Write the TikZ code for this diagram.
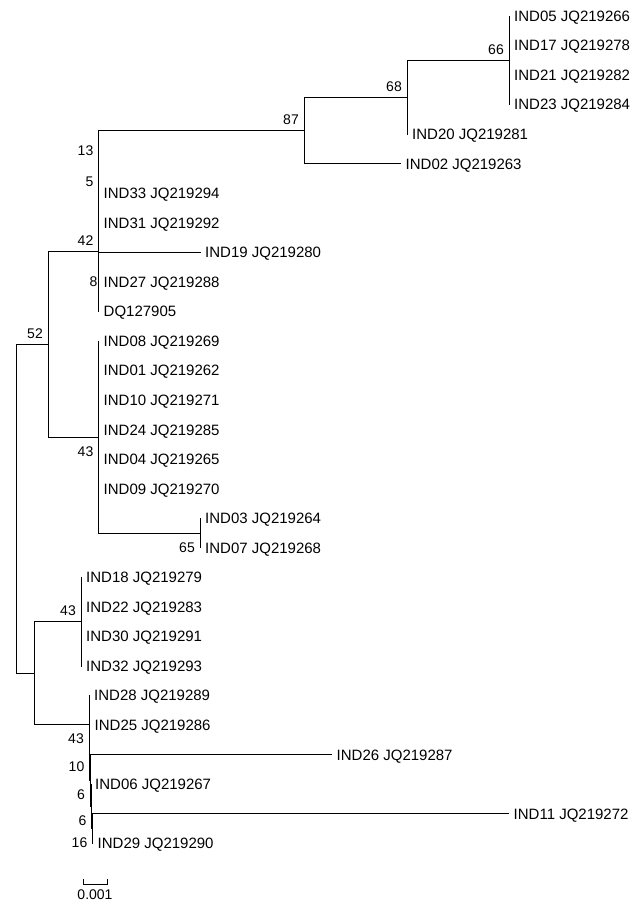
\documentclass[tikz,border=0pt]{standalone}
\usepackage{fontspec}
\setmainfont{Liberation Sans}
\newcommand{\tipfnt}{\fontsize{15}{15}\selectfont}
\newcommand{\bsfnt}{\fontsize{14}{14}\selectfont}
\tikzset{
  branch/.style={line width=1pt, line cap=rect, line join=miter, black},
  tiplab/.style={anchor=base west, inner sep=0pt, xshift=5pt, yshift=-5.3pt, font=\tipfnt},
  bsup/.style={anchor=base east, inner sep=0pt, xshift=-5pt, yshift=6pt, font=\bsfnt},
  bsdown/.style={anchor=base east, inner sep=0pt, xshift=-5pt, yshift=-19pt, font=\bsfnt}
}
\begin{document}
\begin{tikzpicture}[x=1pt,y=-1pt]
\fill[white] (0,0) rectangle (644,908);
\path[use as bounding box] (0,0) rectangle (644,908);
% tips
\coordinate (t05) at (509,16.0);
\coordinate (t17) at (509,45.55);
\coordinate (t21) at (509,75.1);
\coordinate (t23) at (509,104.65);
\coordinate (t20) at (407,134.2);
\coordinate (t02) at (400.5,163.75);
\coordinate (t33) at (98.5,193.3);
\coordinate (t31) at (98.5,222.85);
\coordinate (t19) at (200,252.4);
\coordinate (t27) at (98.5,281.95);
\coordinate (tDQ) at (98.5,311.5);
\coordinate (t08) at (98.5,341.05);
\coordinate (t01) at (98.5,370.6);
\coordinate (t10) at (98.5,400.15);
\coordinate (t24) at (98.5,429.7);
\coordinate (t04) at (98.5,459.25);
\coordinate (t09) at (98.5,488.8);
\coordinate (t03) at (200,518.35);
\coordinate (t07) at (200,547.9);
\coordinate (t18) at (81,577.45);
\coordinate (t22) at (81,607.0);
\coordinate (t30) at (81,636.55);
\coordinate (t32) at (81,666.1);
\coordinate (t28) at (89,695.65);
\coordinate (t25) at (89.5,725.2);
\coordinate (t26) at (331.5,754.75);
\coordinate (t06) at (90,784.3);
\coordinate (t11) at (508.5,813.85);
\coordinate (t29) at (92.5,843.4);
% internal nodes
\coordinate (n66) at (509,60.3);
\coordinate (n68) at (407,97.25);
\coordinate (n87) at (304,130.5);
\coordinate (n13) at (98.5,161.9);
\coordinate (n5) at (98.5,192.4);
\coordinate (n8) at (98.5,267.2);
\coordinate (n42) at (98.5,251.95);
\coordinate (n65) at (200,533.1);
\coordinate (n43u) at (98.5,437.1);
\coordinate (n52) at (48,344.5);
\coordinate (n43m) at (81,621.8);
\coordinate (n16) at (92.5,828.6);
\coordinate (n6b) at (91.5,806.5);
\coordinate (n6a) at (90,780.6);
\coordinate (n10) at (89.5,752.9);
\coordinate (n43b) at (89,724.3);
\coordinate (nbot) at (34,673.05);
\coordinate (root) at (16,508.8);
% branches
\foreach \p/\c in {root/n52, root/nbot, n52/n42, n52/n43u, n42/n5, n42/n8, n42/tDQ,
  n5/n13, n5/t31, n13/n87, n13/t33, n87/n68, n87/t02, n68/n66, n68/t20,
  n66/t05, n66/t17, n66/t21, n66/t23, n8/t19, n8/t27,
  n43u/t08, n43u/t01, n43u/t10, n43u/t24, n43u/t04, n43u/t09, n43u/n65,
  n65/t03, n65/t07, nbot/n43m, nbot/n43b, n43m/t18, n43m/t22, n43m/t30, n43m/t32,
  n43b/t28, n43b/n10, n10/t25, n10/n6a, n6a/t26, n6a/n6b, n6b/t06, n6b/n16,
  n16/t11, n16/t29}
  \draw[branch] (\p) |- (\c);
% tip labels
\node[tiplab] (l05) at (t05) {IND05 JQ219266};
\node[tiplab] (l17) at (t17) {IND17 JQ219278};
\node[tiplab] (l21) at (t21) {IND21 JQ219282};
\node[tiplab] (l23) at (t23) {IND23 JQ219284};
\node[tiplab] (l20) at (t20) {IND20 JQ219281};
\node[tiplab] (l02) at (t02) {IND02 JQ219263};
\node[tiplab] (l33) at (t33) {IND33 JQ219294};
\node[tiplab] (l31) at (t31) {IND31 JQ219292};
\node[tiplab] (l19) at (t19) {IND19 JQ219280};
\node[tiplab] (l27) at (t27) {IND27 JQ219288};
\node[tiplab] (lDQ) at (tDQ) {DQ127905};
\node[tiplab] (l08) at (t08) {IND08 JQ219269};
\node[tiplab] (l01) at (t01) {IND01 JQ219262};
\node[tiplab] (l10) at (t10) {IND10 JQ219271};
\node[tiplab] (l24) at (t24) {IND24 JQ219285};
\node[tiplab] (l04) at (t04) {IND04 JQ219265};
\node[tiplab] (l09) at (t09) {IND09 JQ219270};
\node[tiplab] (l03) at (t03) {IND03 JQ219264};
\node[tiplab] (l07) at (t07) {IND07 JQ219268};
\node[tiplab] (l18) at (t18) {IND18 JQ219279};
\node[tiplab] (l22) at (t22) {IND22 JQ219283};
\node[tiplab] (l30) at (t30) {IND30 JQ219291};
\node[tiplab] (l32) at (t32) {IND32 JQ219293};
\node[tiplab] (l28) at (t28) {IND28 JQ219289};
\node[tiplab] (l25) at (t25) {IND25 JQ219286};
\node[tiplab] (l26) at (t26) {IND26 JQ219287};
\node[tiplab] (l06) at (t06) {IND06 JQ219267};
\node[tiplab] (l11) at (t11) {IND11 JQ219272};
\node[tiplab] (l29) at (t29) {IND29 JQ219290};
% bootstrap values
\node[bsup] (b87) at (n87) {87};
\node[bsup] (b68) at (n68) {68};
\node[bsup] (b66) at (n66) {66};
\node[bsup] (b13) at (n13) {13};
\node[bsup] (b5) at (n5) {5};
\node[bsup] (b42) at (n42) {42};
\node[bsdown, xshift=4pt] (b8) at (n8) {8};
\node[bsup] (b52) at (n52) {52};
\node[bsdown] (b43u) at (n43u) {43};
\node[bsdown] (b65) at (n65) {65};
\node[bsup] (b43m) at (n43m) {43};
\node[bsdown] (b43b) at (n43b) {43};
\node[bsdown] (b10) at (n10) {10};
\node[bsdown] (b6a) at (n6a) {6};
\node[bsdown] (b6b) at (n6b) {6};
\node[bsdown] (b16) at (n16) {16};
% scale bar
\coordinate (sbL) at (83,884);
\coordinate (sbR) at (107,884);
\coordinate (sbLt) at (83,879);
\coordinate (sbRt) at (107,879);
\draw[branch] (sbLt) -- (sbL) -- (sbR) -- (sbRt);
\node[font=\bsfnt, inner sep=0pt, anchor=base] (sbtext) at (95,899) {0.001};
\end{tikzpicture}
\end{document}
